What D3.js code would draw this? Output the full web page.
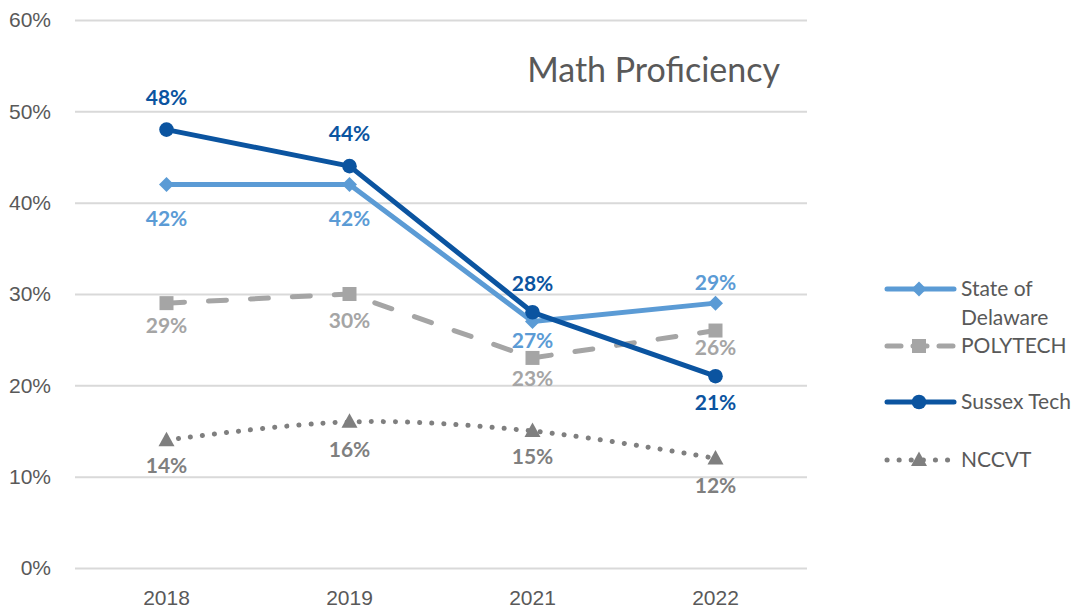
<!DOCTYPE html>
<html>
<head>
<meta charset="utf-8">
<script src="https://cdn.jsdelivr.net/npm/d3@7"></script>
<style>
 body { margin:0; background:#fff; }
 svg { font-family: Lato, "Open Sans", sans-serif; }
</style>
</head>
<body>
<svg id="svg" width="1081" height="610"></svg>
<script>
 var years = ["2018","2019","2021","2022"];
 var stateDE = [42,42,27,29];
 var polytech = [29,30,23,26];
 var sussex = [48,44,28,21];
 var nccvt = [14,16,15,12];
 var yTicks = [0,10,20,30,40,50,60];

 var svg = d3.select("#svg");
 var padding = {top:20, left:75, right:274, bottom:42};
 var chartArea = {
   "width": 1081 - padding.left - padding.right,
   "height": 610 - padding.top - padding.bottom
 };

 var yScale = d3.scaleLinear().domain([0,60]).range([chartArea.height,0]);
 var xScale = d3.scaleBand().domain(years).range([0,chartArea.width]);
 var cx = function(d){ return xScale(d) + xScale.bandwidth()/2; };

 // labelDy: shift of each data label's centre from its point (px)
 var series = [
   {name:"State of Delaware", values:stateDE, color:"#5b9bd5", dash:null, marker:"diamond", labelDy:[34,34,19,-21], curve:d3.curveLinear},
   {name:"POLYTECH", values:polytech, color:"#a5a5a5", dash:"18,24", marker:"square", labelDy:[22,26,21,17], curve:d3.curveLinear},
   {name:"Sussex Tech", values:sussex, color:"#0b54a0", dash:null, marker:"circle", labelDy:[-32,-33,-29,26], curve:d3.curveLinear},
   {name:"NCCVT", values:nccvt, color:"#7f7f7f", dash:"0.1,12", marker:"triangle", labelDy:[25,28,25,27], curve:d3.curveCatmullRom}
 ];

 var g = svg.append("g").attr("transform","translate("+padding.left+","+padding.top+")");

 // grid
 g.append("g").attr("class","grid")
   .call(d3.axisLeft(yScale).tickValues(yTicks).tickSize(-chartArea.width).tickFormat(""))
   .call(function(s){
     s.select(".domain").remove();
     s.selectAll("line").attr("stroke","#d9d9d9").attr("stroke-width",2);
   });

 // y-axis labels
 g.append("g")
   .call(d3.axisLeft(yScale).tickValues(yTicks).tickSize(0).tickPadding(24).tickFormat(function(d){return d+"%";}))
   .call(function(s){
     s.select(".domain").remove();
     s.selectAll("text").attr("fill","#595959").style("font-size","21px").style("font-family","inherit");
   });

 // x-axis labels
 g.append("g").attr("transform","translate(0,"+chartArea.height+")")
   .call(d3.axisBottom(xScale).tickSize(0).tickPadding(22))
   .call(function(s){
     s.select(".domain").remove();
     s.selectAll("text").attr("fill","#595959").style("font-size","21px").style("font-family","inherit");
   });

 function drawMarker(sel, type, color){
   var p;
   if (type === "diamond") p = "M0,-7.5L7.5,0L0,7.5L-7.5,0Z";
   else if (type === "square") p = "M-7,-7H7V7H-7Z";
   else if (type === "triangle") p = "M0,-8.5L8,6L-8,6Z";
   else p = d3.symbol().type(d3.symbolCircle).size(Math.PI*7.3*7.3)();
   sel.append("path").attr("d", p).attr("fill", color);
 }

 series.forEach(function(s){
   var pts = years.map(function(y,i){ return [cx(y), yScale(s.values[i])]; });
   var line = d3.line().curve(s.curve);
   g.append("path")
     .attr("d", line(pts))
     .attr("fill","none")
     .attr("stroke", s.color)
     .attr("stroke-width", 5)
     .attr("stroke-linecap","round")
     .attr("stroke-linejoin","round")
     .attr("stroke-dasharray", s.dash);
 });

 series.forEach(function(s){
   var mk = g.append("g").selectAll("g").data(s.values).enter().append("g")
     .attr("transform", function(d,i){ return "translate("+cx(years[i])+","+yScale(d)+")"; });
   drawMarker(mk, s.marker, s.color);
   g.append("g").selectAll("text").data(s.values).enter().append("text")
     .attr("x", function(d,i){ return cx(years[i]); })
     .attr("y", function(d,i){ return yScale(d) + s.labelDy[i] + 7.5; })
     .attr("text-anchor","middle")
     .attr("fill", s.color)
     .style("font-size","21px")
     .style("font-weight","bold")
     .text(function(d){ return d+"%"; });
 });

 // title
 svg.append("text")
   .attr("x", 780).attr("y", 82)
   .attr("text-anchor","end")
   .attr("fill","#595959")
   .style("font-size","34px")
   .text("Math Proficiency");

 // legend
 var legendRows = [
   {s:series[0], y:289, lines:["State of","Delaware"]},
   {s:series[1], y:346, lines:["POLYTECH"]},
   {s:series[2], y:402, lines:["Sussex Tech"]},
   {s:series[3], y:460, lines:["NCCVT"]}
 ];
 var leg = svg.append("g");
 legendRows.forEach(function(r){
   var row = leg.append("g").attr("transform","translate(884,"+r.y+")");
   row.append("line")
     .attr("x1",3).attr("x2",70).attr("y1",0).attr("y2",0)
     .attr("stroke", r.s.color)
     .attr("stroke-width", 5)
     .attr("stroke-linecap","round")
     .attr("stroke-dasharray", r.s.marker==="square" ? "14,12" : r.s.dash);
   var mk = row.append("g").attr("transform","translate(35,0)");
   drawMarker(mk, r.s.marker, r.s.color);
   r.lines.forEach(function(t,i){
     row.append("text")
       .attr("x", 77).attr("y", 7 + i*29)
       .attr("fill","#595959")
       .style("font-size","21px")
       .text(t);
   });
 });
</script>
</body>
</html>
